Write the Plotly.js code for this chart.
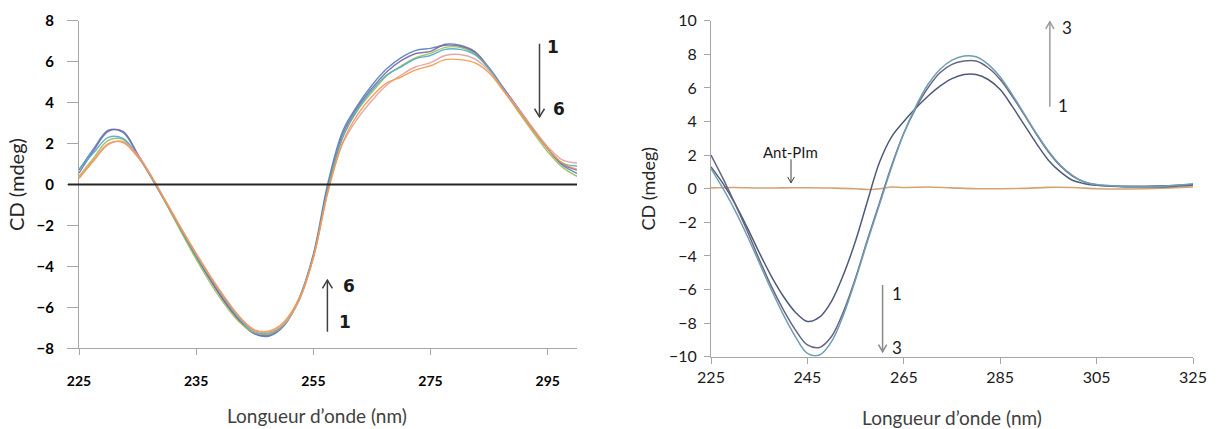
<!DOCTYPE html>
<html>
<head>
<meta charset="utf-8">
<script src="https://cdn.plot.ly/plotly-3.0.1.min.js"></script>
<style>html,body{margin:0;padding:0;background:#fff;}#chart{width:1219px;height:429px;}</style>
</head>
<body>
<div id="chart"></div>
<script>
// ---------- Left panel (spectra 1..6) ----------
const xLeft = [215,217.5,220,222.5,225,227.5,230,232.5,235,237.5,240,242.5,245,247.5,250,252.5,255,257.5,260,262.5,265,267.5,270,272.5,275,277.5,280,282.5,285,287.5,290,292.5,295,297.5,300];
const left1 = [0.7,1.75,2.65,2.55,1.45,0.25,-1.0,-2.3,-3.55,-4.7,-5.75,-6.65,-7.3,-7.4,-6.9,-5.6,-3.4,0.1,2.6,3.85,4.85,5.65,6.2,6.55,6.65,6.8,6.75,6.45,5.65,4.65,3.7,2.7,1.75,0.95,0.55];
const left2 = [0.55,1.65,2.6,2.6,1.5,0.3,-0.95,-2.25,-3.5,-4.7,-5.8,-6.7,-7.3,-7.35,-6.85,-5.65,-3.5,-0.1,2.45,3.75,4.7,5.5,6.05,6.4,6.5,6.85,6.8,6.5,5.7,4.7,3.7,2.7,1.75,1.0,0.7];
const left3 = [0.4,1.3,2.15,2.2,1.4,0.3,-1.0,-2.35,-3.65,-4.85,-5.9,-6.75,-7.25,-7.3,-6.85,-5.7,-3.55,-0.2,2.3,3.6,4.5,5.3,5.8,6.2,6.4,6.7,6.7,6.4,5.65,4.6,3.55,2.55,1.6,0.85,0.4];
const left4 = [0.75,1.55,2.3,2.25,1.4,0.3,-0.95,-2.25,-3.5,-4.6,-5.65,-6.55,-7.2,-7.25,-6.8,-5.65,-3.5,-0.2,2.3,3.65,4.6,5.35,5.75,6.15,6.3,6.6,6.6,6.35,5.65,4.65,3.65,2.65,1.75,1.05,0.9];
const left5 = [0.3,1.15,1.95,2.1,1.45,0.35,-0.9,-2.15,-3.35,-4.5,-5.55,-6.5,-7.15,-7.2,-6.8,-5.7,-3.6,-0.35,2.0,3.2,4.1,4.85,5.35,5.75,5.95,6.3,6.35,6.15,5.55,4.6,3.7,2.75,1.85,1.2,1.05];
const left6 = [0.3,1.2,2.0,2.05,1.35,0.3,-0.95,-2.2,-3.4,-4.55,-5.6,-6.5,-7.1,-7.15,-6.7,-5.6,-3.55,-0.35,2.05,3.4,4.3,4.95,5.25,5.6,5.8,6.1,6.1,5.95,5.45,4.55,3.6,2.65,1.75,1.05,0.75];
const leftNames = ['1','2','3','4','5','6'];
const leftTickVals = [215,235,255,275,295];
const leftTickText = ['225','235','255','275','295'];
const leftYTicks = [-8,-6,-4,-2,0,2,4,6,8];

// ---------- Right panel (spectra 1..3 + Ant-PIm) ----------
const xRight = [225,227.5,230,232.5,235,237.5,240,242.5,245,247.5,250,252.5,255,257.5,260,262.5,265,267.5,270,272.5,275,277.5,280,282.5,285,287.5,290,292.5,295,297.5,300,302.5,305,310,315,320,325];
const right1 = [1.3,0.3,-0.9,-2.3,-3.8,-5.2,-6.4,-7.35,-7.9,-7.65,-6.7,-5.1,-3.1,-0.7,1.6,3.1,4.0,4.8,5.5,6.1,6.55,6.8,6.8,6.5,5.9,4.9,3.8,2.7,1.7,1.0,0.5,0.3,0.2,0.15,0.15,0.18,0.25];
const right2 = [2.0,0.6,-0.9,-2.5,-4.2,-5.8,-7.2,-8.4,-9.3,-9.45,-8.8,-7.3,-5.3,-3.0,-0.8,1.4,3.3,4.8,6.0,6.9,7.4,7.6,7.6,7.2,6.5,5.5,4.4,3.25,2.2,1.35,0.75,0.4,0.22,0.12,0.1,0.12,0.2];
const right3 = [1.2,0.0,-1.3,-2.8,-4.4,-6.0,-7.5,-8.8,-9.8,-9.9,-9.1,-7.5,-5.4,-3.1,-0.9,1.3,3.3,4.9,6.2,7.1,7.65,7.9,7.85,7.4,6.65,5.6,4.45,3.3,2.25,1.4,0.8,0.4,0.25,0.15,0.12,0.18,0.3];
const xAnt = [225,230,235,240,245,250,255,257.5,260,262.5,265,270,275,280,285,290,295,300,305,310,315,320,325];
const antPIm = [0.05,0.07,0.04,0.05,0.06,0.04,0.0,-0.05,0.0,0.1,0.07,0.1,0.05,0.0,0.0,0.02,0.08,0.07,0.0,-0.02,0.0,0.05,0.1];
const rightTickVals = [225,245,265,285,305,325];
const rightYTicks = [-10,-8,-6,-4,-2,0,2,4,6,8,10];

const leftColors = ['#4f81bd','#8064a2','#9bbb59','#4bacc6','#e0a09c','#f79646'];
const rightColors = ['#4e5b78','#6a6484','#6f9fb2'];

const traces = [];
[left1,left2,left3,left4,left5,left6].forEach((ys,i)=>{
  traces.push({x:xLeft,y:ys,type:'scatter',mode:'lines',name:leftNames[i],xaxis:'x',yaxis:'y',
    line:{color:leftColors[i],width:1.4,shape:'spline',smoothing:1},opacity:0.9,showlegend:false,hoverinfo:'skip'});
});
traces.push({x:xAnt,y:antPIm,type:'scatter',mode:'lines',name:'Ant-PIm',xaxis:'x2',yaxis:'y2',
  line:{color:'#d4a373',width:1.6,shape:'spline'},showlegend:false,hoverinfo:'skip'});
[right1,right2,right3].forEach((ys,i)=>{
  traces.push({x:xRight,y:ys,type:'scatter',mode:'lines',name:String(i+1),xaxis:'x2',yaxis:'y2',
    line:{color:rightColors[i],width:1.5,shape:'spline',smoothing:1},showlegend:false,hoverinfo:'skip'});
});

const axisGray = '#a6a6a6';
const font = 'Lato, "Open Sans", sans-serif';

function chevronDown(x,y,dx,dy){return `M ${x-dx},${y+dy} L ${x},${y} L ${x+dx},${y+dy}`;}
function chevronUp(x,y,dx,dy){return `M ${x-dx},${y-dy} L ${x},${y} L ${x+dx},${y-dy}`;}

const shapes = [
  {type:'line',xref:'paper',yref:'y',x0:68/1219,x1:577/1219,y0:0,y1:0,line:{color:'#262626',width:2}},
  {type:'line',xref:'x',yref:'y',x0:293.6,x1:293.6,y0:6.88,y1:3.3,line:{color:'#404040',width:1.5}},
  {type:'path',xref:'x',yref:'y',path:chevronDown(293.6,3.3,0.85,0.4),line:{color:'#404040',width:1.5}},
  {type:'line',xref:'x',yref:'y',x0:257.4,x1:257.4,y0:-7.19,y1:-4.67,line:{color:'#404040',width:1.5}},
  {type:'path',xref:'x',yref:'y',path:chevronUp(257.4,-4.67,0.85,0.4),line:{color:'#404040',width:1.5}},
  {type:'line',xref:'x2',yref:'y2',x0:295.3,x1:295.3,y0:4.88,y1:9.94,line:{color:'#9a9a9a',width:1.5}},
  {type:'path',xref:'x2',yref:'y2',path:chevronUp(295.3,9.94,0.85,0.42),line:{color:'#9a9a9a',width:1.5}},
  {type:'line',xref:'x2',yref:'y2',x0:260.6,x1:260.6,y0:-5.73,y1:-9.7,line:{color:'#8a8a8a',width:1.5}},
  {type:'path',xref:'x2',yref:'y2',path:chevronDown(260.6,-9.7,0.85,0.42),line:{color:'#8a8a8a',width:1.5}},
  {type:'line',xref:'x2',yref:'y2',x0:241.6,x1:241.6,y0:1.75,y1:0.35,line:{color:'#404040',width:1}},
  {type:'path',xref:'x2',yref:'y2',path:chevronDown(241.6,0.35,0.7,0.35),line:{color:'#404040',width:1}}
];

const boldNum = {family:'"DejaVu Sans", sans-serif',size:17,color:'#1a1a1a',weight:'bold'};
const plainNum = {family:font,size:17,color:'#1a1a1a'};
const annotations = [
  {xref:'paper',yref:'paper',x:317/1219,y:(429-415)/429,text:'Longueur d’onde (nm)',showarrow:false,font:{family:font,size:19,color:'#404040'},xanchor:'center',yanchor:'middle'},
  {xref:'x',yref:'y',x:295.9,y:6.72,text:'<b>1</b>',showarrow:false,font:boldNum,xanchor:'center',yanchor:'middle'},
  {xref:'x',yref:'y',x:296.9,y:3.71,text:'<b>6</b>',showarrow:false,font:boldNum,xanchor:'center',yanchor:'middle'},
  {xref:'x',yref:'y',x:261.1,y:-4.94,text:'<b>6</b>',showarrow:false,font:boldNum,xanchor:'center',yanchor:'middle'},
  {xref:'x',yref:'y',x:260.4,y:-6.73,text:'<b>1</b>',showarrow:false,font:boldNum,xanchor:'center',yanchor:'middle'},
  {xref:'x2',yref:'y2',x:298.8,y:9.61,text:'3',showarrow:false,font:plainNum,xanchor:'center',yanchor:'middle'},
  {xref:'x2',yref:'y2',x:298.1,y:4.98,text:'1',showarrow:false,font:plainNum,xanchor:'center',yanchor:'middle'},
  {xref:'x2',yref:'y2',x:263.6,y:-6.23,text:'1',showarrow:false,font:plainNum,xanchor:'center',yanchor:'middle'},
  {xref:'x2',yref:'y2',x:263.6,y:-9.44,text:'3',showarrow:false,font:plainNum,xanchor:'center',yanchor:'middle'},
  {xref:'x2',yref:'y2',x:241.4,y:2.2,text:'Ant-PIm',showarrow:false,font:{family:font,size:15,color:'#1a1a1a'},xanchor:'center',yanchor:'middle'}
];

const layout = {
  width:1219,height:429,
  margin:{l:0,r:0,t:0,b:0},
  paper_bgcolor:'#ffffff',plot_bgcolor:'#ffffff',
  showlegend:false,
  xaxis:{domain:[79/1219,577/1219],range:[215,300],tickmode:'array',tickvals:leftTickVals,ticktext:leftTickText,
    showgrid:false,zeroline:false,showline:true,linecolor:axisGray,linewidth:1,ticks:'outside',ticklen:6,tickcolor:axisGray,
    tickfont:{family:font,size:14,color:'#000',weight:'bold'},ticklabelstandoff:14,automargin:false,anchor:'y'},
  yaxis:{domain:[(429-348.3)/429,(429-20.7)/429],range:[-8,8],tickvals:leftYTicks,
    showgrid:false,zeroline:false,showline:true,linecolor:axisGray,linewidth:1,ticks:'outside',ticklen:11,tickcolor:axisGray,
    tickfont:{family:font,size:15,color:'#000',weight:'bold'},ticklabelstandoff:10,
    title:{text:'CD (mdeg)',font:{family:font,size:20,color:'#262626'},standoff:6},automargin:false,anchor:'x'},
  xaxis2:{domain:[711/1219,1193/1219],range:[225,325],tickmode:'array',tickvals:rightTickVals,
    showgrid:false,zeroline:false,showline:true,linecolor:axisGray,linewidth:1,ticks:'outside',ticklen:6,tickcolor:axisGray,
    tickfont:{family:font,size:16,color:'#1a1a1a'},
    title:{text:'Longueur d’onde (nm)',font:{family:font,size:19,color:'#404040'},standoff:26},automargin:false,anchor:'y2'},
  yaxis2:{domain:[(429-356.7)/429,(429-20.7)/429],range:[-10,10],tickvals:rightYTicks,
    showgrid:false,zeroline:false,showline:true,linecolor:axisGray,linewidth:1,ticks:'outside',ticklen:6,tickcolor:axisGray,
    tickfont:{family:font,size:16,color:'#1a1a1a'},ticklabelstandoff:4,
    title:{text:'CD (mdeg)',font:{family:font,size:18,color:'#262626'},standoff:8},automargin:false,anchor:'x2'},
  shapes:shapes,
  annotations:annotations
};

Plotly.newPlot('chart',traces,layout,{displayModeBar:false,staticPlot:true});
</script>
</body>
</html>
